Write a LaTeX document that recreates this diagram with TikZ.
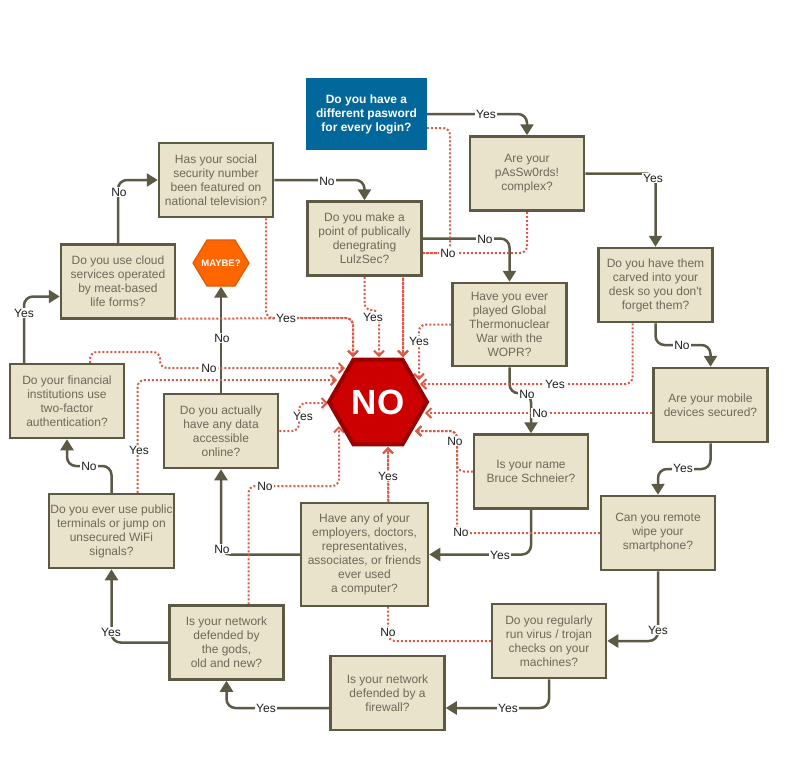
\documentclass[tikz,border=0pt]{standalone}
\usepackage{fontspec}
\setmainfont{Liberation Sans}[Ligatures=TeXOff]
\usetikzlibrary{arrows.meta,shapes.geometric,backgrounds,calc}
\definecolor{boxfill}{HTML}{E9E3CB}
\definecolor{boxline}{HTML}{5C5944}
\definecolor{boxtext}{HTML}{6D6959}
\definecolor{reddot}{HTML}{DA5A48}
\definecolor{startblue}{HTML}{02679A}
\definecolor{nofill}{HTML}{CC0000}
\definecolor{noline}{HTML}{990000}
\definecolor{maybefill}{HTML}{FF6600}
\definecolor{maybeline}{HTML}{DB5B00}
\definecolor{lbltext}{HTML}{1E1E1E}
\begin{document}
\begin{tikzpicture}[x=1pt,y=-1pt,
 qbox/.style={rectangle, draw=boxline, line width=2.5pt, fill=boxfill, text=boxtext,
   minimum width=114pt, minimum height=74pt, align=center, inner sep=1pt,
   font=\fontsize{12}{14}\selectfont},
 startbox/.style={rectangle, fill=startblue, text=white, minimum width=121pt,
   minimum height=72pt, align=center, font=\bfseries\fontsize{12}{14}\selectfont},
 nohex/.style={regular polygon, regular polygon sides=6, fill=nofill, draw=noline,
   line width=4pt, minimum size=98pt, inner sep=0pt, text=white,
   font=\bfseries\fontsize{35}{35}\selectfont},
 maybetext/.style={inner sep=0pt, text=white, font=\bfseries\fontsize{9.5}{10}\selectfont},
 maybeshape/.style={fill=maybefill, draw=maybeline, line width=1.2pt, line join=miter},
 soledge/.style={draw=boxline, line width=2.5pt, rounded corners=9pt,
   -{Triangle[length=11pt,width=13pt]}},
 dotedge/.style={draw=reddot, line width=2pt, dash pattern=on 2pt off 2pt,
   rounded corners=7pt, -{Straight Barb[length=5pt,width=10pt]}},
 lbl/.style={fill=white, text=lbltext, inner sep=1pt, font=\fontsize{12}{14}\selectfont},
]
\useasboundingbox (0,0) rectangle (788,766);

% nodes
\node[startbox] (start) at (366.5,114) {Do you have a\\different pasword\\for every login?};
\node[qbox] (q2) at (527,173.5) {Are your\\pAsSw0rds!\\complex?};
\node[qbox] (q3) at (655.5,285) {Do you have them\\carved into your\\desk so you don't\\forget them?};
\node[qbox] (q4) at (710.5,405) {Are your mobile\\devices secured?};
\node[qbox] (q5) at (658,533) {Can you remote\\wipe your\\smartphone?};
\node[qbox] (q6) at (549,641) {Do you regularly\\run virus / trojan\\checks on your\\machines?};
\node[qbox] (q7) at (387.5,693) {Is your network\\defended by a\\firewall?};
\node[qbox] (q8) at (226.5,642.5) {Is your network\\defended by\\the gods,\\old and new?};
\node[qbox, minimum width=125pt] (q9) at (111.5,531) {Do you ever use public\\terminals or jump on\\unsecured WiFi\\signals?};
\node[qbox] (q10) at (67,401) {Do your financial\\institutions use\\two-factor\\authentication?};
\node[qbox] (q11) at (118,281.5) {Do you use cloud\\services operated\\by meat-based\\life forms?};
\node[qbox] (q12) at (216,180) {Has your social\\security number\\been featured on\\national television?};
\node[qbox] (q13) at (364.5,238.5) {Do you make a\\point of publically\\denegrating\\LulzSec?};
\node[qbox, minimum height=83pt] (q14) at (509.5,324.5) {Have you ever\\played Global\\Thermonuclear\\War with the\\WOPR?};
\node[qbox] (q15) at (531,471.5) {Is your name\\Bruce Schneier?};
\node[qbox, minimum width=127pt, minimum height=103pt] (q16) at (364.5,554.5) {Have any of your\\employers, doctors,\\representatives,\\associates, or friends\\ever used\\a computer?};
\node[qbox] (q17) at (221,431) {Do you actually\\have any data\\accessible\\online?};
\node[nohex] (NO) at (378,402) {NO};
\node[maybetext] (maybe) at (221,263) {MAYBE?};

\begin{pgfonlayer}{background}
% MAYBE hexagon
\filldraw[maybeshape] ($(maybe.center)+(-28,0)$) -- ++(14,-23) -- ++(28,0) -- ++(14,23)
  -- ++(-14,23) -- ++(-28,0) -- cycle;
% solid connectors
\draw[soledge] (start.east) -| (q2.north);
\draw[soledge] (q2.east) -| (q3.north);
\draw[soledge] (q3.south) |- ($(q3.south)!.5!(q4.north)$) -| (q4.north);
\draw[soledge] (q4.south) |- ($(q4.south)!.5!(q5.north)$) -| (q5.north);
\draw[soledge] (q5.south) |- (q6.east);
\draw[soledge] (q6.south) |- ($(q7.east)+(0,15)$);
\draw[soledge] ($(q7.west)+(0,15)$) -| (q8.south);
\draw[soledge] (q8.west) -| (q9.south);
\draw[soledge] (q9.north) |- ($(q9.north)!.5!(q10.south)$) -| (q10.south);
\draw[soledge] ($(q10.north)+(-43,0)$) |- ($(q11.west)+(0,15)$);
\draw[soledge] (q11.north) |- (q12.west);
\draw[soledge] (q12.east) -| (q13.north);
\draw[soledge] (q13.east) -| (q14.north);
\draw[soledge] (q14.south) |- ($(q15.north)+(0,-40)$) -- (q15.north);
\draw[soledge] (q15.south) |- (q16.east);
\draw[soledge] (q16.west) -| (q17.south);
\draw[soledge] (q17.north) -- ($(maybe.center)+(0,23.6)$);
% dotted connectors to NO
\draw[dotedge] ($(start.east)+(0,14)$) -| (450,253) -- (403,253) -- ($(NO.center)+(25,-45)$);
\draw[dotedge] (q2.south) |- (403,253) -- ($(NO.center)+(25,-45)$);
\draw[dotedge] (q13.south) |- (379,310) -- ($(NO.center)+(1,-45)$);
\draw[dotedge] ($(q12.south)+(50,0)$) |- (353,318) -- ($(NO.center)+(-25,-45)$);
\draw[dotedge] ($(q11.south east)+(0,-1)$) -- (353,318) -- ($(NO.center)+(-25,-45)$);
\draw[dotedge] ($(q10.north)+(23,0)$) |- (160,352) -- (160,368) -- ($(NO.center)+(-33,-34)$);
\draw[dotedge] ($(q9.north)+(26,0)$) |- ($(NO.center)+(-41,-22)$);
\draw[dotedge] (q17.east) -- (299,431) -- (299,403) -- ($(NO.center)+(-50,1)$);
\draw[dotedge] ($(q8.north)+(22,0)$) |- (339,486) -- ($(NO.center)+(-39,24)$);
\draw[dotedge] ($(q16.north)+(24,0)$) -- ($(NO.center)+(10,45)$);
\draw[dotedge] (q6.west) -| ($(NO.center)+(10,45)$);
\draw[dotedge] (q15.west) -- (457,471.5) |- ($(NO.center)+(37,29)$);
\draw[dotedge] (q5.west) -- (457,533) |- ($(NO.center)+(37,29)$);
\draw[dotedge] ($(q4.west)+(0,8)$) -- ($(NO.center)+(47,11)$);
\draw[dotedge] ($(q3.south)+(-23,0)$) |- ($(NO.center)+(42,-18)$);
\draw[dotedge] (q14.west) -| ($(NO.center)+(41,-22)$);
\end{pgfonlayer}

% labels on solid connectors
\node[lbl] (l1) at (486,114) {Yes};
\node[lbl] (l2) at (653,178) {Yes};
\node[lbl] (l3) at (682,345) {No};
\node[lbl] (l4) at (683,468) {Yes};
\node[lbl] (l5) at (658,630) {Yes};
\node[lbl] (l6) at (508,708) {Yes};
\node[lbl] (l7) at (266,708) {Yes};
\node[lbl] (l8) at (111,632) {Yes};
\node[lbl] (l9) at (89,466) {No};
\node[lbl] (l10) at (24,313) {Yes};
\node[lbl] (l11) at (119,192) {No};
\node[lbl] (l12) at (327,181) {No};
\node[lbl] (l13) at (485,239) {No};
\node[lbl] (l14) at (527,394) {No};
\node[lbl] (l15) at (500,555) {Yes};
\node[lbl] (l16) at (222,549) {No};
\node[lbl] (l17) at (222,338) {No};
% labels on dotted connectors
\node[lbl] (d1) at (448,253) {No};
\node[lbl] (d2) at (373,317) {Yes};
\node[lbl] (d3) at (286,318) {Yes};
\node[lbl] (d4) at (209,368) {No};
\node[lbl] (d5) at (139,450) {Yes};
\node[lbl] (d6) at (303,416) {Yes};
\node[lbl] (d7) at (265,486) {No};
\node[lbl] (d8) at (388,476) {Yes};
\node[lbl] (d9) at (388,632) {No};
\node[lbl] (d10) at (455,441) {No};
\node[lbl] (d11) at (461,532) {No};
\node[lbl] (d12) at (540,413) {No};
\node[lbl] (d13) at (555,384) {Yes};
\node[lbl] (d14) at (419,341) {Yes};
\end{tikzpicture}
\end{document}
